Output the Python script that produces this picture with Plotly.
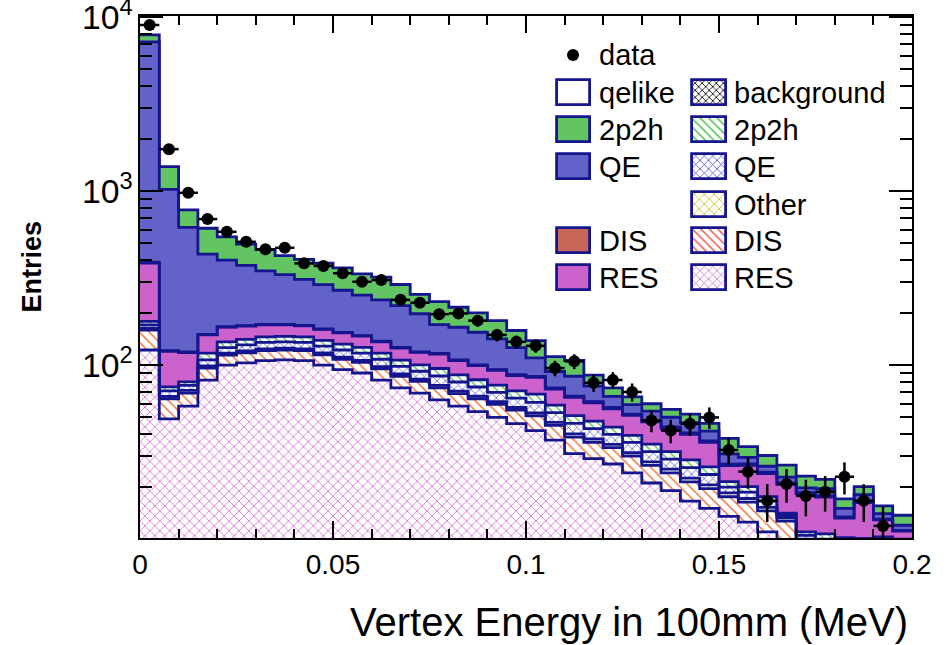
import numpy as np
import plotly.graph_objects as go

# ---------------- binning ----------------
bin_width = 0.005
n_bins = 40
bin_edges = np.arange(n_bins + 1) * bin_width
bin_centers = bin_edges[:-1] + bin_width / 2

# ---------------- MC components (entries per bin) ----------------
# background (hatched)
res_bkg = [122, 49, 58, 82, 100, 103, 106, 107, 106, 100,
           94, 90, 82, 74, 69, 63, 58, 54, 50, 46,
           42, 37, 31, 29, 27, 24, 21, 19, 16.5, 15,
           13.5, 12.5, 11, 9.5, 7, 6.5, 6, 5.5, 5.5, 5]
dis_bkg = [37, 15, 11, 14, 14, 14.5, 15, 15, 15, 14.5,
           14, 13.5, 13, 12, 11.5, 11, 10.5, 10, 9.5, 9,
           9, 8, 7.5, 7, 6.5, 6, 5.5, 5, 4.8, 4.5,
           4, 3.8, 3.5, 3.2, 2.5, 2.3, 2.2, 2.2, 2.1, 2]
oth_bkg = [4, 2, 2.5, 3, 3, 3, 3, 3, 3, 3,
           3, 3, 3, 2.8, 2.6, 2.5, 2.4, 2.3, 2.2, 2,
           2, 1.8, 1.7, 1.6, 1.5, 1.4, 1.3, 1.2, 1.1, 1,
           0.9, 0.8, 0.7, 0.6, 0.5, 0.5, 0.4, 0.4, 0.4, 0.4]
qe_bkg = [7, 5, 5, 8, 9, 10, 11, 11, 11, 11,
          11, 10.5, 10, 9.5, 9, 10, 9, 8.5, 8, 7.5,
          8, 6.5, 6, 5.5, 5, 4.5, 4, 3.6, 3.3, 3,
          1.5, 1.5, 1.3, 0.5, 0.5, 0.7, 0.8, 1.0, 1.2, 1.3]
mec_bkg = [8, 4, 3.5, 10, 10, 10, 10, 10, 10, 10,
           10, 9.5, 9, 8.5, 8, 9, 8, 7.5, 7, 6.5,
           7, 5.5, 5, 4.5, 4, 3.5, 3.3, 3, 2.8, 2.5,
           1.5, 1.4, 1.0, 0.3, 0.5, 0.7, 0.8, 1.0, 1.1, 1.3]
# qelike signal (solid)
res_sig = [207, 45, 38, 32, 29, 27, 25, 24, 23, 22,
           21, 20, 19, 18.5, 18, 20, 18, 17, 16.5, 16,
           17, 14, 14, 13, 12, 12, 12, 11.5, 11.5, 10,
           5, 6.5, 6.3, 6.5, 7.2, 6.7, 3.0, 6.1, 2.6, 1.1]
dis_sig = [5, 1, 1, 1, 1, 1, 1, 1, 1, 1,
           1, 1, 1, 1, 1, 1, 1, 1, 1, 1,
           1, 1, 1, 1, 1, 0.8, 0.8, 0.8, 0.7, 0.7,
           0.5, 0.5, 0.4, 0.4, 0.3, 0.3, 0.2, 0.2, 0.1, 0.1]
qe_sig = [6810, 900, 500, 284, 235, 205, 177, 160, 142, 128,
          115, 105, 100, 93, 78, 54, 58, 54, 47, 38,
          24, 18, 20, 14, 9, 7, 6.5, 6, 6, 5,
          4, 2.5, 2, 1.7, 1.2, 1.8, 1.6, 1.6, 1.0, 0.8]
mec_sig = [700, 360, 160, 177, 144, 122, 112, 94, 94, 95,
           93, 82, 83, 71, 58, 61, 50, 45, 39, 32,
           28, 20, 20, 12, 8, 6.5, 5.5, 5.5, 5.5, 4.5,
           7, 4.5, 4, 3.9, 3.3, 2.5, 2.0, 2.0, 1.5, 1.7]

# ---------------- data ----------------
data = [9000, 1740, 977, 690, 583, 511, 463, 472, 384, 371,
        337, 301, 308, 237, 228, 196, 198, 180, 149, 136,
        129, 96, 105, 79, 82, 70, 48, 42, 46, 50,
        32.5, 24.4, 16.6, 20.7, 17.7, 18.7, 22.8, 16.6, 11.9, None]

# ---------------- styles ----------------
NAVY = "#15158e"
GREEN = "#62c462"
BLUE = "#6262c8"
MAGENTA = "#cc62cc"
BROWN = "#c8665a"
FONT = "Liberation Sans, Arial, sans-serif"

# stacking order, bottom to top
stack = [
    ("RES bkg", res_bkg, dict(shape="x", fgcolor="#cf5ccf", bgcolor="white", size=7, solidity=0.2)),
    ("DIS bkg", dis_bkg, dict(shape="\\", fgcolor="#ec7440", bgcolor="white", size=7, solidity=0.22)),
    ("Other bkg", oth_bkg, dict(shape="x", fgcolor="#d8d040", bgcolor="white", size=7, solidity=0.2)),
    ("QE bkg", qe_bkg, dict(shape="x", fgcolor="#4a4ad0", bgcolor="white", size=6, solidity=0.22)),
    ("2p2h bkg", mec_bkg, dict(shape="\\", fgcolor="#50c050", bgcolor="white", size=6, solidity=0.22)),
    ("RES", res_sig, MAGENTA),
    ("DIS", dis_sig, BROWN),
    ("QE", qe_sig, BLUE),
    ("2p2h", mec_sig, GREEN),
]

fig = go.Figure()

base = np.zeros(n_bins)
levels = []
for name, vals, style in stack:
    vals = np.array(vals, dtype=float)
    if isinstance(style, dict):
        marker = dict(color="white", pattern=dict(fillmode="replace", **style), line=dict(width=0))
    else:
        marker = dict(color=style, line=dict(width=0))
    fig.add_trace(go.Bar(
        x=bin_centers, y=vals, base=None if not base.any() else base.copy(),
        width=bin_width, marker=marker, name=name, showlegend=False,
        hoverinfo="skip",
    ))
    base = base + vals
    levels.append(base.copy())

# histogram outlines of every cumulative layer
for lev in levels:
    fig.add_trace(go.Scatter(
        x=bin_edges, y=np.append(lev, lev[-1]), mode="lines",
        line=dict(color=NAVY, width=2.8, shape="hv"),
        showlegend=False, hoverinfo="skip",
    ))

# data points with Poisson uncertainty
data_arr = np.array([np.nan if v is None else v for v in data], dtype=float)
fig.add_trace(go.Scatter(
    x=bin_centers, y=data_arr, mode="markers",
    marker=dict(color="black", size=12),
    error_y=dict(type="data", array=np.sqrt(data_arr), color="black", thickness=2.5, width=0),
    error_x=dict(type="constant", value=bin_width / 2, color="black", thickness=2.5, width=0),
    showlegend=False, hoverinfo="skip",
))

# ---------------- legend (drawn on a pixel-unit overlay axis pair) ----------------
legend_left = [
    ("qelike", "white", None),
    ("2p2h", GREEN, None),
    ("QE", BLUE, None),
    (None, None, None),
    ("DIS", BROWN, None),
    ("RES", MAGENTA, None),
]
legend_right = [
    ("background", "white", dict(shape="x", fgcolor="black", bgcolor="white", size=5, solidity=0.3)),
    ("2p2h", "white", dict(shape="\\", fgcolor="#50c050", bgcolor="white", size=6, solidity=0.25)),
    ("QE", "white", dict(shape="x", fgcolor="#4a4ad0", bgcolor="white", size=6, solidity=0.25)),
    ("Other", "white", dict(shape="x", fgcolor="#d0c838", bgcolor="white", size=7, solidity=0.25)),
    ("DIS", "white", dict(shape="\\", fgcolor="#ec5a50", bgcolor="white", size=6, solidity=0.25)),
    ("RES", "white", dict(shape="x", fgcolor="#cf5ccf", bgcolor="white", size=6, solidity=0.22)),
]
row_y = [92.5, 129.5, 166.5, 204.5, 240.5, 277.5]
box_h = 25.5
cols = [(573.5, 33, 597, legend_left), (709, 34, 732, legend_right)]

annotations = []
for cx, bw, tx, entries in cols:
    for (label, color, pat), ry in zip(entries, row_y):
        if label is None:
            continue
        marker = dict(color=color, line=dict(color=NAVY, width=2.8))
        if pat is not None:
            marker["pattern"] = dict(fillmode="replace", **pat)
        fig.add_trace(go.Bar(
            x=[cx], y=[box_h], base=[ry - box_h / 2], width=bw,
            marker=marker, xaxis="x2", yaxis="y2", showlegend=False, hoverinfo="skip",
        ))
        annotations.append(dict(
            x=tx, y=ry, xref="x2", yref="y2", text=label, showarrow=False,
            xanchor="left", yanchor="middle", font=dict(family=FONT, size=29, color="black"),
        ))

fig.add_trace(go.Scatter(
    x=[573], y=[55], mode="markers", marker=dict(color="black", size=12),
    xaxis="x2", yaxis="y2", showlegend=False, hoverinfo="skip",
))
annotations.append(dict(
    x=597, y=55, xref="x2", yref="y2", text="data", showarrow=False,
    xanchor="left", yanchor="middle", font=dict(family=FONT, size=29, color="black"),
))

# axis titles
annotations.append(dict(
    x=-0.14, y=0.52, xref="paper", yref="paper", text="<b>Entries</b>", textangle=-90,
    showarrow=False, xanchor="center", yanchor="middle",
    font=dict(family=FONT, size=27, color="black"),
))
annotations.append(dict(
    x=0.997, y=-0.16, xref="paper", yref="paper", text="Vertex Energy in 100mm (MeV)",
    showarrow=False, xanchor="right", yanchor="middle",
    font=dict(family=FONT, size=40, color="black"),
))

fig.update_layout(
    width=951, height=645,
    margin=dict(l=140, r=39, t=16, b=107, autoexpand=False),
    paper_bgcolor="white", plot_bgcolor="white",
    barmode="overlay", bargap=0,
    showlegend=False,
    annotations=annotations,
    xaxis=dict(
        range=[0, 0.2], tick0=0, dtick=0.05, showgrid=False, zeroline=False,
        automargin=False,
        showline=True, linecolor="black", linewidth=2, mirror="ticks",
        ticks="inside", ticklen=17, tickwidth=2, tickcolor="black",
        minor=dict(dtick=0.01, ticks="inside", ticklen=9, tickwidth=2, tickcolor="black", showgrid=False),
        tickfont=dict(family=FONT, size=28, color="black"),
    ),
    yaxis=dict(
        type="log", range=[1.006, 4.006], dtick=1, exponentformat="power",
        showgrid=False, zeroline=False, ticklabeloverflow="allow", automargin=False,
        showline=True, linecolor="black", linewidth=2, mirror="ticks",
        ticks="inside", ticklen=23, tickwidth=2, tickcolor="black",
        minor=dict(dtick="D1", ticks="inside", ticklen=12, tickwidth=2, tickcolor="black", showgrid=False),
        tickfont=dict(family=FONT, size=27, color="black"),
    ),
    xaxis2=dict(range=[140, 912], overlaying="x", visible=False, fixedrange=True),
    yaxis2=dict(range=[538, 16], overlaying="y", visible=False, fixedrange=True),
)

fig.write_html("out.html")
